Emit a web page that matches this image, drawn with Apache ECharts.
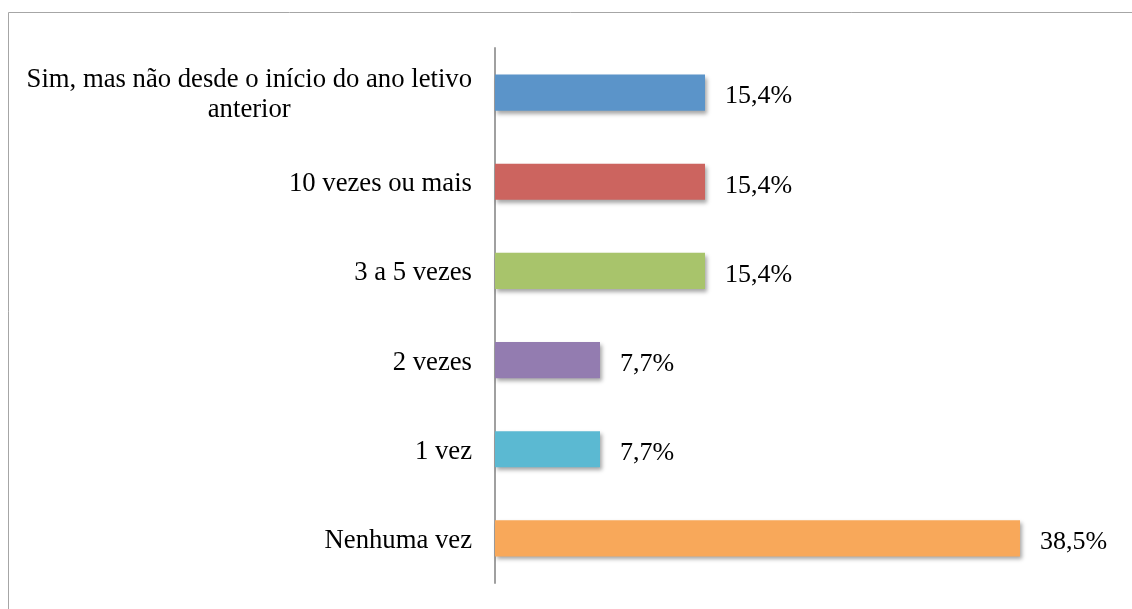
<!DOCTYPE html>
<html>
<head>
<meta charset="utf-8">
<script src="https://cdn.jsdelivr.net/npm/echarts@6/dist/echarts.min.js"></script>
<style>
html,body{margin:0;padding:0;background:#fff;}
#chart{width:1132px;height:609px;}
</style>
</head>
<body>
<div id="chart"></div>
<script>
const categories = [
  'Sim, mas não desde o início do ano letivo\nanterior',
  '10 vezes ou mais',
  '3 a 5 vezes',
  '2 vezes',
  '1 vez',
  'Nenhuma vez'
];
const values = [15.4, 15.4, 15.4, 7.7, 7.7, 38.5];
const colors = ['#5B94C9', '#CC645F', '#A8C46B', '#937CB0', '#5BB9D2', '#F8A85A'];

const chart = echarts.init(document.getElementById('chart'));
const font = '"Liberation Serif", "Times New Roman", serif';
chart.setOption({
  animation: false,
  graphic: [{
    type: 'rect',
    shape: {x: 8.5, y: 12.5, width: 1300, height: 800},
    style: {fill: 'none', stroke: '#a6a6a6', lineWidth: 1},
    silent: true,
    z: -10
  }],
  grid: {left: 495, top: 48, bottom: 26, right: 91.5},
  xAxis: {
    type: 'value', min: 0, max: 40, show: false
  },
  yAxis: {
    type: 'category',
    inverse: true,
    data: categories,
    axisLine: {show: true, lineStyle: {color: '#a0a0a0', width: 2}},
    axisTick: {show: false},
    axisLabel: {
      margin: 23,
      fontFamily: font,
      fontSize: 26.7,
      color: '#000',
      lineHeight: 30,
      padding: [5, 0, 0, 0],
      formatter: function (v) {
        return v.split('\n').map(l => '{c|' + l + '}').join('\n');
      },
      rich: {c: {align: 'center', fontFamily: font, fontSize: 26.7, lineHeight: 30, color: '#000'}}
    }
  },
  series: [{
    type: 'bar',
    data: values.map((v, i) => ({value: v, itemStyle: {color: colors[i]}})),
    barCategoryGap: '59.5%',
    itemStyle: {
      shadowBlur: 4,
      shadowOffsetX: 2,
      shadowOffsetY: 3,
      shadowColor: 'rgba(0,0,0,0.35)'
    },
    label: {
      show: true,
      position: 'right',
      distance: 20,
      offset: [0, 4],
      fontFamily: font,
      fontSize: 26,
      color: '#000',
      formatter: p => p.value.toFixed(1).replace('.', ',') + '%'
    }
  }]
});
</script>
</body>
</html>
